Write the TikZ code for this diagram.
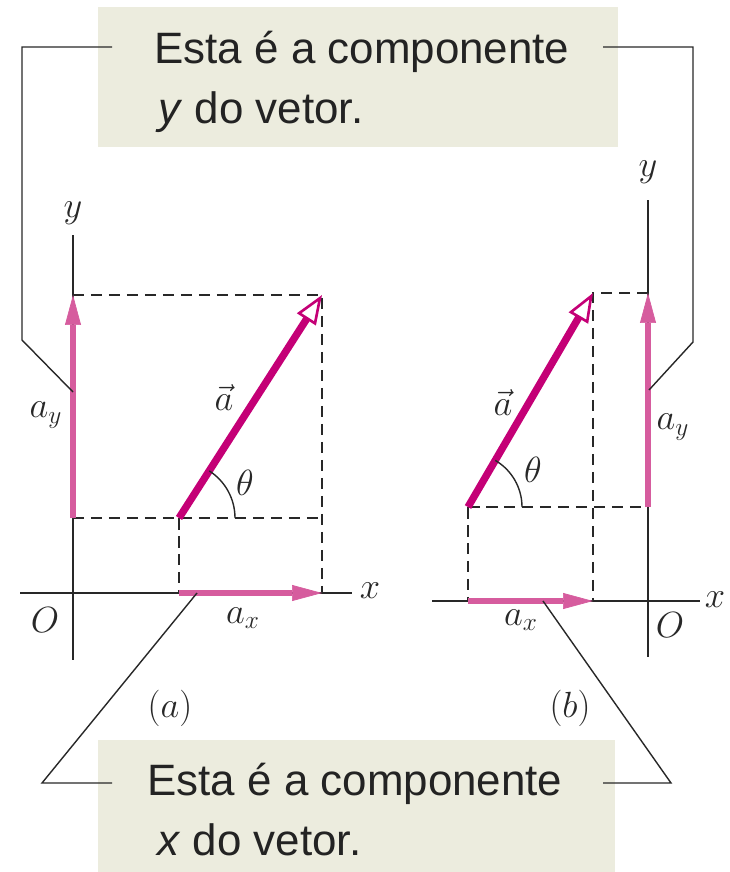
\documentclass[tikz,border=0pt]{standalone}
\usepackage{fontspec}
\newfontfamily\notefont{Liberation Sans}
\usepackage{tikz}
\usetikzlibrary{arrows.meta, calc}

\definecolor{vecmag}{RGB}{196,0,118}
\definecolor{comppink}{RGB}{214,92,158}
\definecolor{notebg}{RGB}{236,236,222}
\definecolor{notetxt}{RGB}{35,35,35}
\definecolor{inkgray}{RGB}{40,40,40}

\begin{document}
\begin{tikzpicture}[
    x=0.02cm, y=-0.02cm,
    axis/.style={draw=inkgray, line width=0.9pt},
    guide/.style={draw=inkgray, line width=0.9pt, dash pattern=on 0.23cm off 0.13cm},
    lead/.style={draw=inkgray, line width=0.8pt},
    comp/.style={draw=comppink, line width=3.2pt,
                 -{Triangle[length=0.6cm, width=0.32cm, line width=0.4pt]}},
    vect/.style={draw=vecmag, line width=4.2pt,
                 -{Triangle[open, length=0.58cm, width=0.44cm, line width=1.5pt]}},
    notebox/.style={fill=notebg, draw=none},
    note/.style={anchor=base west, inner sep=0pt, text=notetxt,
                 font=\notefont\fontsize{25}{30}\selectfont},
    lbl/.style={inner sep=1pt, text=inkgray, font=\fontsize{20.74}{24}\selectfont},
  ]
  \useasboundingbox (0,0) rectangle (730,872);

  % Pixel grid of the figure: x to the right, y downwards.
  % Left panel (a): origin at (73,593). Right panel (b): origin at (648,601).

  % ── note boxes ─────────────────────────────────────────────────────
  \fill[notebox] (98,7) rectangle (618,147);
  \node[note] (ynote1) at (154,63)  {Esta é a componente};
  \node[note] (ynote2) at (158,123) {\textit{y} do vetor.};

  \fill[notebox] (98,740) rectangle (615,872);
  \node[note] (xnote1) at (147,795) {Esta é a componente};
  \node[note] (xnote2) at (157,855) {\textit{x} do vetor.};

  % ── panel (a) ──────────────────────────────────────────────────────
  \coordinate (tailA)  at (179,518);
  \coordinate (headA)  at (322,295);
  \coordinate (topA)   at (73,295);
  \coordinate (baseA)  at (73,518);
  \coordinate (xendA)  at (322,593);
  \coordinate (xbegA)  at (179,593);

  \draw[axis] (20,593) -- (352,593);
  \draw[axis] (73,235) -- (73,660);

  \draw[guide] (topA) -- (headA) -- (xendA);
  \draw[guide] (baseA) -- (baseA -| headA);
  \draw[guide] (tailA) -- (xbegA);

  \draw[comp] (baseA) -- (topA);
  \draw[comp] (xbegA) -- (xendA);
  \draw[vect] (tailA) -- (headA);
  \draw[lead] ($(tailA)+(56,0)$) arc[start angle=0, end angle=-57.3, radius=56];

  \node[lbl] (yAlab)  at (73,213)  {$y$};
  \node[lbl] (xAlab)  at (370,591) {$x$};
  \node[lbl] (OAlab)  at (45,620)  {$O$};
  \node[lbl] (ayAlab) at (46,415)  {$a_y$};
  \node[lbl] (axAlab) at (243,618) {$a_x$};
  \node[lbl] (vAlab)  at (224,398) {$\vec{a}$};
  \node[lbl] (thAlab) at (245,483) {$\theta$};
  \node[lbl] (capA)   at (170,708) {$(a)$};

  % ── panel (b) ──────────────────────────────────────────────────────
  \coordinate (tailB)  at (468,507);
  \coordinate (headB)  at (593,293);
  \coordinate (topB)   at (648,293);
  \coordinate (baseB)  at (648,507);
  \coordinate (xendB)  at (593,601);
  \coordinate (xbegB)  at (468,601);

  \draw[axis] (432,601) -- (700,601);
  \draw[axis] (648,200) -- (648,657);

  \draw[guide] (topB) -- (headB) -- (xendB);
  \draw[guide] (tailB) -- (baseB);
  \draw[guide] (tailB) -- (xbegB);

  \draw[comp] (baseB) -- (topB);
  \draw[comp] (xbegB) -- (xendB);
  \draw[vect] (tailB) -- (headB);
  \draw[lead] ($(tailB)+(54,0)$) arc[start angle=0, end angle=-59.7, radius=54];

  \node[lbl] (yBlab)  at (648,172) {$y$};
  \node[lbl] (xBlab)  at (715,600) {$x$};
  \node[lbl] (OBlab)  at (670,625) {$O$};
  \node[lbl] (ayBlab) at (673,427) {$a_y$};
  \node[lbl] (axBlab) at (521,620) {$a_x$};
  \node[lbl] (vBlab)  at (503,403) {$\vec{a}$};
  \node[lbl] (thBlab) at (533,470) {$\theta$};
  \node[lbl] (capB)   at (570,708) {$(b)$};

  % ── leader lines from the notes to the components ──────────────────
  \coordinate (ynoteL) at (112,47);
  \coordinate (ynoteR) at (603,47);
  \coordinate (xnoteL) at (112,783);
  \coordinate (xnoteR) at (603,783);
  \coordinate (ayA) at (73,392);
  \coordinate (ayB) at (649,390);
  \coordinate (axA) at (197,593);
  \coordinate (axB) at (543,601);

  \draw[lead] (ynoteL) -| (22,340) -- (ayA);
  \draw[lead] (ynoteR) -| (693,342) -- (ayB);
  \draw[lead] (axA) -- (42,783) -- (xnoteL);
  \draw[lead] (axB) -- (671,783) -- (xnoteR);

\end{tikzpicture}
\end{document}
